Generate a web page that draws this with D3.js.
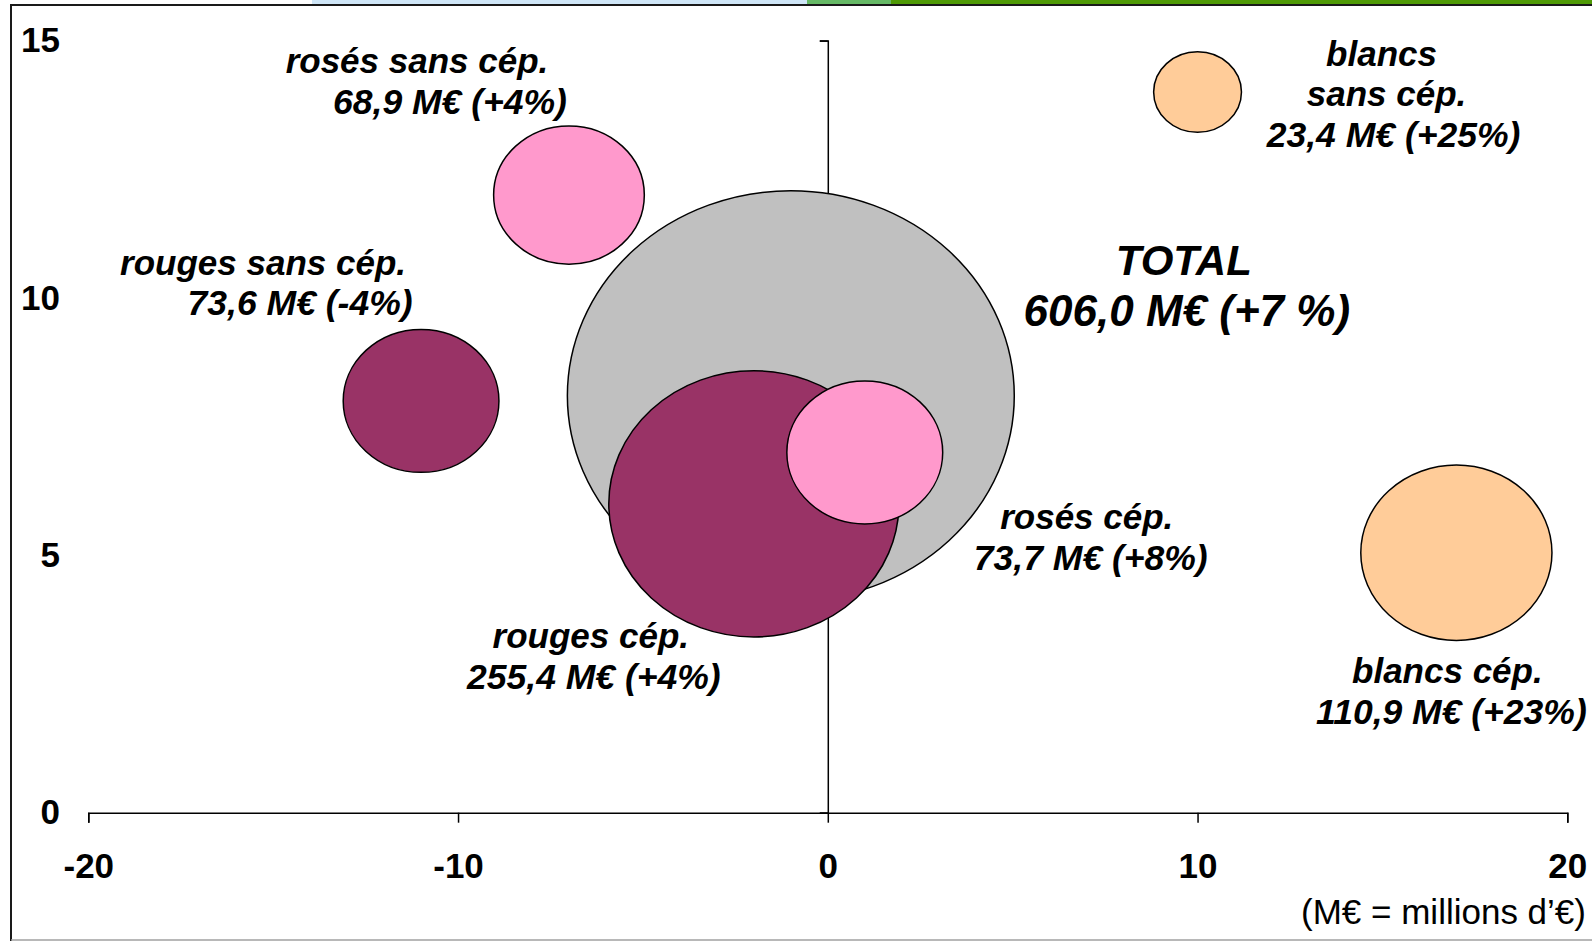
<!DOCTYPE html>
<html>
<head>
<meta charset="utf-8">
<script src="https://cdn.jsdelivr.net/npm/d3@7"></script>
<style>
  body { margin: 0; background: #fff; }
  svg { display: block; font-family: "Liberation Sans", Arial, sans-serif; }
</style>
</head>
<body>
<svg id="chart" width="1592" height="941"></svg>
<script>
// données
let categories = ["TOTAL", "rouges cép.", "rosés cép.", "rouges sans cép.", "rosés sans cép.", "blancs sans cép.", "blancs cép."];
let nameLines = [["TOTAL"], ["rouges cép."], ["rosés cép."], ["rouges sans cép."], ["rosés sans cép."], ["blancs", "sans cép."], ["blancs cép."]];
let types = ["total", "rouges", "roses", "rouges", "roses", "blancs", "blancs"];
let xValues = [-1, -2, 1, -11, -7, 10, 17];
let yValues = [8.1, 6, 7, 8, 12, 14, 5.05];
let sizeValues = [606.0, 255.4, 73.7, 73.6, 68.9, 23.4, 110.9];
let changes = ["+7 %", "+4%", "+8%", "-4%", "+4%", "+25%", "+23%"];
let xTicks = [-20, -10, 0, 10, 20];
let yTicks = [0, 5, 10, 15];

// mise en page
let colors = {total: "#c0c0c0", rouges: "#993366", roses: "#ff99cc", blancs: "#ffcc99"};
let labelOffset = [[393, -136], [-163, 132], [222, 64], [-158, -139], [-152, -135], [184, -39], [-9, 118]];
let lineShift = [[0, 3], [0, 3], [0, 4], [0, 37], [0, 33], [0, 5, 12], [0, 4]];

let svg = d3.select("#chart");

// bandeau du haut + cadre
svg.append("rect").attr("x", 312).attr("y", 0).attr("width", 495).attr("height", 4).attr("fill", "#cfe6f7");
svg.append("rect").attr("x", 807).attr("y", 0).attr("width", 84).attr("height", 4).attr("fill", "#66b966");
svg.append("rect").attr("x", 891).attr("y", 0).attr("width", 701).attr("height", 4).attr("fill", "#4f9a06");
svg.append("line").attr("x1", 11).attr("x2", 1592).attr("y1", 5).attr("y2", 5).attr("stroke", "#1a1a1a").attr("stroke-width", 2);
svg.append("line").attr("x1", 11).attr("x2", 11).attr("y1", 4).attr("y2", 941).attr("stroke", "#1a1a1a").attr("stroke-width", 2);
svg.append("line").attr("x1", 11).attr("x2", 1592).attr("y1", 940).attr("y2", 940).attr("stroke", "#a0a0a0").attr("stroke-width", 1.5);

let x = d3.scaleLinear().domain([-20, 20]).range([88.3, 1567.3]);
let y = d3.scaleLinear().domain([0, 15]).range([812.7, 40.6]);
let r = d3.scaleSqrt().domain([0, 606]).range([0, 205]);
let stretch = 1.09; // les bulles sont un peu aplaties

// axe vertical au x = 0
let yAxis = svg.append("g")
    .attr("transform", "translate(" + x(0) + ",0)")
    .call(d3.axisLeft(y).tickValues(yTicks).tickSize(8).tickFormat(""));
yAxis.selectAll("path, line").attr("stroke", "#000").attr("stroke-width", 1.5);

// étiquettes de l'axe vertical à gauche
let yLabels = svg.append("g")
    .attr("transform", "translate(60,0)")
    .call(d3.axisLeft(y).tickValues(yTicks).tickSize(0).tickPadding(0).tickFormat(d => String(d)));
yLabels.select(".domain").remove();
yLabels.selectAll("text")
    .attr("font-size", 35).attr("font-weight", "bold").attr("fill", "#000")
    .attr("font-family", "Liberation Sans, Arial, sans-serif");

let xAxis = svg.append("g")
    .attr("transform", "translate(0," + y(0) + ")")
    .call(d3.axisBottom(x).tickValues(xTicks).tickSize(10).tickPadding(30).tickFormat(d => String(d)));
xAxis.selectAll("path, line").attr("stroke", "#000").attr("stroke-width", 1.5);
xAxis.selectAll("text")
    .attr("font-size", 35).attr("font-weight", "bold").attr("fill", "#000")
    .attr("font-family", "Liberation Sans, Arial, sans-serif");

// bulles
let data = categories.map((c, i) => ({
    name: c, lines: nameLines[i], type: types[i],
    x: xValues[i], y: yValues[i], size: sizeValues[i], change: changes[i], i: i
}));

svg.append("g").selectAll("ellipse")
    .data(data)
    .join("ellipse")
    .attr("cx", d => x(d.x))
    .attr("cy", d => y(d.y))
    .attr("rx", d => r(d.size) * stretch)
    .attr("ry", d => r(d.size))
    .attr("fill", d => colors[d.type])
    .attr("stroke", "#000")
    .attr("stroke-width", 1.5);

// étiquettes
let fmt = v => v.toFixed(1).replace(".", ",");
data.forEach(d => {
    let lines = d.lines.concat([fmt(d.size) + " M€ (" + d.change + ")"]);
    let big = d.type == "total";
    let lh = big ? 50.7 : 40.8;
    let cx = x(d.x) + labelOffset[d.i][0];
    let cy = y(d.y) + labelOffset[d.i][1];
    lines.forEach((t, k) => {
        let last = k == lines.length - 1;
        let fs = big ? (last ? 44 : 42) : (last ? 35.5 : 35);
        svg.append("text")
            .attr("x", cx + lineShift[d.i][k])
            .attr("y", cy + k * lh)
            .attr("dy", "0.36em")
            .attr("text-anchor", "middle")
            .attr("font-size", fs)
            .attr("font-weight", "bold")
            .attr("font-style", "italic")
            .attr("fill", "#000")
            .text(t);
    });
});

svg.append("text")
    .attr("x", 1586).attr("y", 911).attr("dy", "0.36em")
    .attr("text-anchor", "end")
    .attr("font-size", 35)
    .attr("fill", "#000")
    .text("(M€ = millions d’€)");
</script>
</body>
</html>
